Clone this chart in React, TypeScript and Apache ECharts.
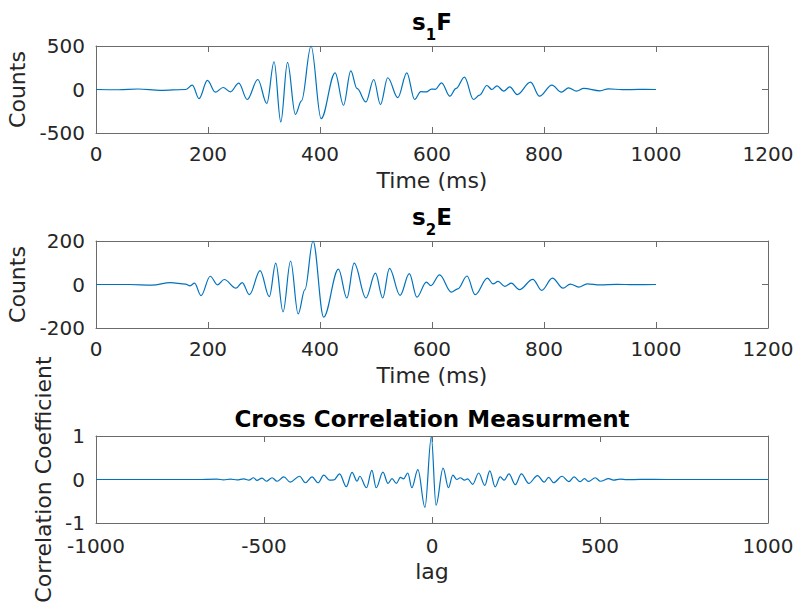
import React, { useEffect, useRef } from 'react';
import * as echarts from 'echarts';

// ---- s1F (Counts vs Time ms) ----
const s1Time = [0, 40, 75, 115, 160, 172, 184, 199, 213, 227, 240, 255, 270, 289, 305, 318, 330, 342, 356, 367, 384, 402, 427, 442, 455, 466, 482, 496, 508, 521, 539, 555, 569, 580, 590, 599, 606, 617, 632, 643, 658, 674, 685, 698, 707, 716, 728, 739, 752, 776, 792, 814, 831, 844, 858, 871, 900, 915, 940, 970, 1000];
const s1Counts = [0, -3, 6, -10, 0, 50, -104, 104, -31, 23, -27, 73, -115, 115, -161, 319, -373, 312, -285, -130, 500, -335, 192, -181, 215, 12, -143, 115, -173, 135, -94, 192, -115, -25, -28, 5, 2, 77, -77, 12, 142, -115, -65, 46, 0, 42, -19, 31, -58, 85, -77, 50, -31, 19, -19, 12, -15, 8, -2, 1, 0];

// ---- s2E (Counts vs Time ms) ----
const s2Time = [0, 60, 100, 133, 160, 168, 176, 187.5, 204, 217, 229, 250, 261, 274, 293, 309.5, 321, 334, 347.5, 361, 373, 387.5, 406.5, 433, 448, 461, 482, 499, 512, 524, 543, 559.5, 573, 590, 598, 613.5, 634.5, 646, 662.5, 677, 699, 709, 718, 730, 741.5, 756, 780, 796, 815, 834, 847, 862, 877, 900, 930, 960, 1000];
const s2Counts = [0, 0, -3, 9, 2, -6, 6, -51, 38, -2, 23, -17, 9, -47, 64, -56, 98, -126, 108, -135, -24, 200, -150, 71, -62, 98, -62, 52, -62, 74, -50, 50, -58, 11, -5, 44, -35, -20, 39, -47, 29, 3, 14, -9, 6, -24, 24, -27, 29, -17, 2, -12, 3, -2, 1, -1, 0];

// ---- Cross correlation (coefficient vs lag) ----
const ccLag = [-1000, -700, -640, -620, -600, -580, -560, -545, -531, -521, -506, -493, -476, -461, -441, -422, -394, -377, -357, -339, -322, -305, -292, -275, -255, -238, -223, -215, -195, -179, -166, -146, -131, -119, -106, -94, -85, -72, -60, -42, -21, -2, 12, 33, 49, 62, 74, 84, 97, 106, 121, 139, 157, 172, 188, 203, 215, 229, 248, 266, 288, 314, 334, 347, 362, 387, 407, 423, 441, 454, 466, 486, 501, 526, 540, 560, 580, 620, 700, 1000];
const ccCoef = [0, 0, 0.01, -0.01, 0.01, -0.01, 0.015, -0.015, 0.04, -0.02, 0.03, -0.04, 0.04, -0.04, 0.06, -0.06, 0.075, -0.075, 0.06, -0.075, 0.1, -0.015, -0.01, 0.13, -0.165, 0.165, -0.04, 0.075, -0.19, 0.21, -0.19, 0.17, -0.09, 0.02, -0.09, 0.05, 0.015, 0.15, -0.19, 0.225, -0.64, 0.98, -0.59, 0.26, -0.19, 0.1, 0, 0.04, -0.015, 0.015, -0.11, 0.15, -0.135, 0.2, -0.17, 0.06, -0.015, 0.13, -0.12, 0.13, -0.09, 0.09, -0.06, 0.05, -0.075, 0.075, -0.05, 0.06, -0.05, 0.02, -0.045, 0.04, -0.04, 0.02, -0.015, 0.008, -0.005, 0.003, 0, 0];

// ---- axis settings ----
const timeTicks = { min: 0, max: 1200, interval: 200 };
const lagTicks = { min: -1000, max: 1000, interval: 500 };
const s1Range = { min: -500, max: 500, interval: 500 };
const s2Range = { min: -200, max: 200, interval: 200 };
const ccRange = { min: -1, max: 1, interval: 1 };

const FONT = 'DejaVu Sans';
const AXIS = '#6b6b6b';
const TEXT = '#262626';
const LINE = '#0072BD';

function zip(a: number[], b: number[]) {
  return a.map((v, i) => [v, b[i]]);
}

function titleRich(main1: string, sub: string, main2: string) {
  return {
    text: `{a|${main1}}{b|${sub}}{a|${main2}}`,
    rich: {
      a: { fontSize: 23, fontWeight: 'bold', fontFamily: FONT, color: '#000' },
      b: { fontSize: 15, fontWeight: 'bold', fontFamily: FONT, color: '#000', padding: [25, 0, 0, 0] },
    },
  };
}

export default function App() {
  const ref = useRef<HTMLDivElement>(null);
  useEffect(() => {
    const chart = echarts.init(ref.current!, null, { renderer: 'svg' });
    const tops = [46, 241, 436];
    const grid = tops.map((t) => ({
      left: 96,
      width: 672,
      top: t,
      height: 87,
      containLabel: false,
      outerBoundsMode: 'none',
    }));
    const tick = { inside: true, length: 6, lineStyle: { color: AXIS, width: 1 } };
    const line = { show: true, onZero: false, lineStyle: { color: AXIS, width: 1 } };
    const xLabel = {
      color: TEXT, fontSize: 20, fontFamily: FONT, margin: 11,
      showMinLabel: true, showMaxLabel: true,
      formatter: (v: number) => String(v),
    };
    const yLabel = { ...xLabel, lineHeight: 16 };
    const nameStyle = { color: TEXT, fontSize: 22, fontFamily: FONT };

    const xr = [timeTicks, timeTicks, lagTicks];
    const yr = [s1Range, s2Range, ccRange];
    const xNames = ['Time (ms)', 'Time (ms)', 'lag'];
    const yNames = ['Counts', 'Counts', 'Correlation Coefficient'];
    const yGaps = [65, 65, 37];
    const xMargins = [11, 11, 13];
    const xNameGaps = [36, 36, 37];
    const titles: any[] = [
      titleRich('s', '1', 'F'),
      titleRich('s', '2', 'E'),
      { text: 'Cross Correlation Measurment', rich: {} },
    ];

    const xAxis: any[] = [];
    const yAxis: any[] = [];
    for (let i = 0; i < 3; i++) {
      xAxis.push({
        type: 'value', gridIndex: i, position: 'bottom', ...xr[i],
        axisLine: line, axisTick: tick, axisLabel: { ...xLabel, margin: xMargins[i] }, splitLine: { show: false },
        name: xNames[i], nameLocation: 'middle', nameGap: xNameGaps[i], nameTextStyle: nameStyle,
      });
      const t = titles[i];
      xAxis.push({
        type: 'value', gridIndex: i, position: 'top', ...xr[i],
        axisLine: line, axisTick: tick, axisLabel: { show: false }, splitLine: { show: false },
        name: t.text, nameLocation: 'middle', nameGap: i === 2 ? 6 : 4,
        nameTextStyle: { color: '#000', fontSize: 23, fontWeight: 'bold', fontFamily: FONT, rich: t.rich },
      });
      yAxis.push({
        type: 'value', gridIndex: i, position: 'left', ...yr[i],
        axisLine: line, axisTick: tick, axisLabel: yLabel, splitLine: { show: false },
        name: yNames[i], nameLocation: 'middle', nameGap: yGaps[i], nameRotate: 90, nameTextStyle: nameStyle,
      });
      yAxis.push({
        type: 'value', gridIndex: i, position: 'right', ...yr[i],
        axisLine: line, axisTick: tick, axisLabel: { show: false }, splitLine: { show: false },
      });
    }

    const datasets = [zip(s1Time, s1Counts), zip(s2Time, s2Counts), zip(ccLag, ccCoef)];
    const series = datasets.map((d, i) => ({
      type: 'line',
      xAxisIndex: i * 2,
      yAxisIndex: i * 2,
      data: d,
      showSymbol: false,
      smooth: 0.36,
      smoothMonotone: 'x',
      lineStyle: { color: LINE, width: 1.2 },
      itemStyle: { color: LINE },
      clip: true,
    }));

    chart.setOption({
      animation: false,
      backgroundColor: '#fff',
      grid,
      xAxis,
      yAxis,
      series,
    });
    return () => chart.dispose();
  }, []);
  return <div ref={ref} style={{ position: 'fixed', left: 0, top: 0, width: 796, height: 606 }} />;
}
